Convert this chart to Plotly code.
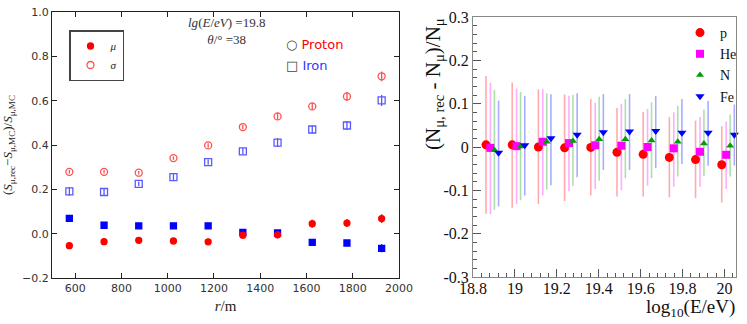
import plotly.graph_objects as go

# ---- left panel: muon signal reconstruction bias / resolution vs r ----
R_M = [575, 725, 875, 1025, 1175, 1325, 1475, 1625, 1775, 1925]
PROTON_MU = [-0.054, -0.036, -0.030, -0.033, -0.037, -0.007, -0.005, 0.045, 0.048, 0.068]
PROTON_MU_ERR = [0.012, 0.008, 0.008, 0.008, 0.010, 0.015, 0.015, 0.018, 0.018, 0.020]
IRON_MU = [0.069, 0.038, 0.035, 0.035, 0.035, 0.006, 0.003, -0.039, -0.042, -0.066]
IRON_MU_ERR = [0.008, 0.008, 0.006, 0.006, 0.006, 0.010, 0.010, 0.010, 0.012, 0.018]
PROTON_SIGMA = [0.279, 0.279, 0.275, 0.341, 0.398, 0.481, 0.529, 0.574, 0.619, 0.710]
PROTON_SIGMA_ERR = [0.008, 0.008, 0.008, 0.008, 0.010, 0.010, 0.015, 0.015, 0.020, 0.022]
IRON_SIGMA = [0.191, 0.188, 0.225, 0.255, 0.323, 0.371, 0.411, 0.470, 0.488, 0.601]
IRON_SIGMA_ERR = [0.020, 0.018, 0.010, 0.015, 0.012, 0.015, 0.020, 0.018, 0.020, 0.025]

# ---- right panel: N_mu bias vs energy, per primary ----
LG_E = [18.875, 19.0, 19.125, 19.25, 19.375, 19.5, 19.625, 19.75, 19.875, 20.0]
SPECIES = ["p", "He", "N", "Fe"]
OFFSET = {"p": -0.013, "He": 0.008, "N": 0.027, "Fe": 0.047}
NMU = {
    "p": [0.005, 0.005, 0.000, -0.002, -0.001, -0.012, -0.017, -0.024, -0.029, -0.041],
    "He": [-0.002, 0.002, 0.012, 0.009, 0.004, 0.003, 0.000, -0.003, -0.011, -0.018],
    "N": [-0.007, 0.001, 0.012, 0.014, 0.018, 0.018, 0.015, 0.012, 0.008, 0.003],
    "Fe": [-0.013, 0.004, 0.020, 0.028, 0.034, 0.036, 0.037, 0.033, 0.033, 0.028],
}
NMU_HI = {
    "p": [0.164, 0.149, 0.133, 0.121, 0.111, 0.090, 0.081, 0.069, 0.061, 0.048],
    "He": [0.148, 0.135, 0.134, 0.118, 0.102, 0.100, 0.088, 0.080, 0.069, 0.059],
    "N": [0.132, 0.127, 0.124, 0.120, 0.116, 0.111, 0.103, 0.095, 0.086, 0.075],
    "Fe": [0.107, 0.118, 0.122, 0.124, 0.122, 0.122, 0.118, 0.111, 0.106, 0.098],
}
NMU_LO = {
    "p": [-0.154, -0.140, -0.132, -0.125, -0.112, -0.114, -0.114, -0.116, -0.118, -0.128],
    "He": [-0.155, -0.132, -0.112, -0.102, -0.097, -0.100, -0.089, -0.092, -0.092, -0.097],
    "N": [-0.145, -0.123, -0.098, -0.090, -0.078, -0.072, -0.072, -0.068, -0.067, -0.068],
    "Fe": [-0.137, -0.112, -0.088, -0.070, -0.053, -0.053, -0.049, -0.039, -0.043, -0.043],
}
Y2_TICKS = [-0.3, -0.2, -0.1, 0.0, 0.1, 0.2, 0.3]
Y2_LABELS = ["-0.3", "-0.2", "-0.1", "0", "0.1", "0.2", "0.3"]
X2_TICKS = [18.8, 19.0, 19.2, 19.4, 19.6, 19.8, 20.0]
X2_LABELS = ["18.8", "19", "19.2", "19.4", "19.6", "19.8", "20"]

STYLE = {
    "p": dict(color="#ff0000", bar="rgba(255,0,0,0.33)", symbol="circle", size=9),
    "He": dict(color="#ff00ff", bar="rgba(255,0,255,0.33)", symbol="square", size=8),
    "N": dict(color="#00a000", bar="rgba(0,160,0,0.33)", symbol="triangle-up", size=7),
    "Fe": dict(color="#0000ff", bar="rgba(0,0,255,0.33)", symbol="triangle-down", size=8),
}

W, H = 747, 324
SANS = "DejaVu Sans"
SERIF = "Liberation Serif"


def px(x):
    return x / W


def py(y):
    return 1 - y / H


fig = go.Figure()


def left_trace(y, err, color, symbol, name, legend, rank):
    fig.add_trace(go.Scatter(
        x=R_M, y=y, mode="markers", name=name, showlegend=legend, legend="legend",
        legendrank=rank,
        marker=dict(color=color, symbol=symbol, size=6 if "open" not in symbol else 7,
                    line=dict(color=color, width=1.3)),
        error_y=dict(type="data", array=err, color=color, thickness=1.3, width=0),
        xaxis="x", yaxis="y", cliponaxis=False,
    ))


left_trace(IRON_SIGMA, IRON_SIGMA_ERR, "#5a5aff", "square-open", "Iron σ", False, 10)
left_trace(PROTON_SIGMA, PROTON_SIGMA_ERR, "#ff5050", "circle-open", "<i>σ</i>", True, 2)
left_trace(IRON_MU, IRON_MU_ERR, "#0000ff", "square", "Iron μ", False, 10)
left_trace(PROTON_MU, PROTON_MU_ERR, "#ff0000", "circle", "<i>μ</i>", True, 1)

for sp in SPECIES:
    st = STYLE[sp]
    xs = [e + OFFSET[sp] for e in LG_E]
    ys = NMU[sp]
    fig.add_trace(go.Scatter(
        x=xs, y=ys, mode="markers", name=sp, legend="legend2",
        marker=dict(color=st["color"], symbol=st["symbol"], size=st["size"], line=dict(width=0)),
        error_y=dict(type="data", symmetric=False,
                     array=[h - v for h, v in zip(NMU_HI[sp], ys)],
                     arrayminus=[v - l for l, v in zip(NMU_LO[sp], ys)],
                     color=st["bar"], thickness=1.6, width=0),
        xaxis="x2", yaxis="y2", cliponaxis=False,
    ))

axis_common = dict(showline=True, linewidth=1, showgrid=False, zeroline=False,
                   ticks="inside", automargin=False)

fig.update_layout(
    width=W, height=H,
    margin=dict(l=0, r=0, t=0, b=0),
    paper_bgcolor="white", plot_bgcolor="white",
    xaxis=dict(domain=[px(52), px(399)], range=[500, 2000], dtick=200, tick0=0,
               linecolor="#222", mirror="ticks", ticklen=5, tickcolor="#222",
               tickfont=dict(family=SANS, size=11, color="#333"),
               title=dict(text="<i>r</i>/m", font=dict(family=SERIF, size=15, color="#222"), standoff=6),
               anchor="y", **axis_common),
    yaxis=dict(domain=[py(278), py(12)], range=[-0.2, 1.0], dtick=0.2, tickformat=".1f",
               linecolor="#222", mirror="ticks", ticklen=5, tickcolor="#222",
               tickfont=dict(family=SANS, size=11, color="#333"),
               title=dict(text="(<i>S</i><sub>μ,rec</sub>−<i>S</i><sub>μ,MC</sub>)/<i>S</i><sub>μ,MC</sub>",
                          font=dict(family=SERIF, size=13, color="#222"), standoff=12),
               anchor="x", **axis_common),
    xaxis2=dict(domain=[px(473), px(736)], range=[18.8, 20.055],
                tickvals=X2_TICKS, ticktext=X2_LABELS, ticklabelstandoff=-3,
                linecolor="#888", mirror=True, ticklen=8, tickcolor="#555",
                minor=dict(dtick=0.04, tick0=18.8, ticklen=4, ticks="inside", tickcolor="#555"),
                tickfont=dict(family=SERIF, size=16, color="#111"),
                anchor="y2", **axis_common),
    yaxis2=dict(domain=[py(277), py(17)], range=[-0.3, 0.3],
                tickvals=Y2_TICKS, ticktext=Y2_LABELS,
                linecolor="#888", mirror=True, ticklen=8, tickcolor="#555",
                minor=dict(dtick=0.02, tick0=0, ticklen=4, ticks="inside", tickcolor="#555"),
                tickfont=dict(family=SERIF, size=16, color="#111"),
                anchor="x2", **axis_common),
    legend=dict(x=px(69), y=py(30), xanchor="left", yanchor="top",
                bordercolor="#444", borderwidth=1.5, bgcolor="white",
                font=dict(family=SERIF, size=11, color="#222"),
                tracegroupgap=0, itemwidth=30),
    legend2=dict(x=px(680), y=py(17), xanchor="left", yanchor="top",
                 bgcolor="rgba(0,0,0,0)", borderwidth=0,
                 font=dict(family=SERIF, size=14, color="#111"),
                 tracegroupgap=0, itemwidth=30),
    showlegend=True,
)

fig.add_annotation(text="<i>lg</i>(<i>E</i>/<i>eV</i>) =19.8<br><i>θ</i>/° =38",
                   x=px(226), y=py(31), xref="paper", yref="paper", showarrow=False,
                   xanchor="center", yanchor="middle",
                   font=dict(family=SERIF, size=13, color="#333"))
fig.add_annotation(text="<span style='color:#444'>○</span> <span style='color:#ff0000'>Proton</span>",
                   x=px(284), y=py(35), xref="paper", yref="paper", xanchor="left",
                   showarrow=False, font=dict(family=SANS, size=13))
fig.add_annotation(text="<span style='color:#444'>□</span> <span style='color:#3333ff'>Iron</span>",
                   x=px(284), y=py(56), xref="paper", yref="paper", xanchor="left",
                   showarrow=False, font=dict(family=SANS, size=13))

fig.add_annotation(text="(N<sub>μ, rec</sub> - N<sub>μ</sub>)/N<sub>μ</sub>",
                   x=px(434), y=py(16), xref="paper", yref="paper", textangle=-90,
                   xanchor="center", yanchor="top", showarrow=False,
                   font=dict(family=SERIF, size=21, color="#111"))
fig.add_annotation(text="log<sub>10</sub>(E/eV)",
                   x=px(737), y=py(308), xref="paper", yref="paper",
                   xanchor="right", yanchor="middle", showarrow=False,
                   font=dict(family=SERIF, size=19, color="#111"))

fig.write_html("out.html", post_script="document.body.style.margin='0';",
               config={"displayModeBar": False})
